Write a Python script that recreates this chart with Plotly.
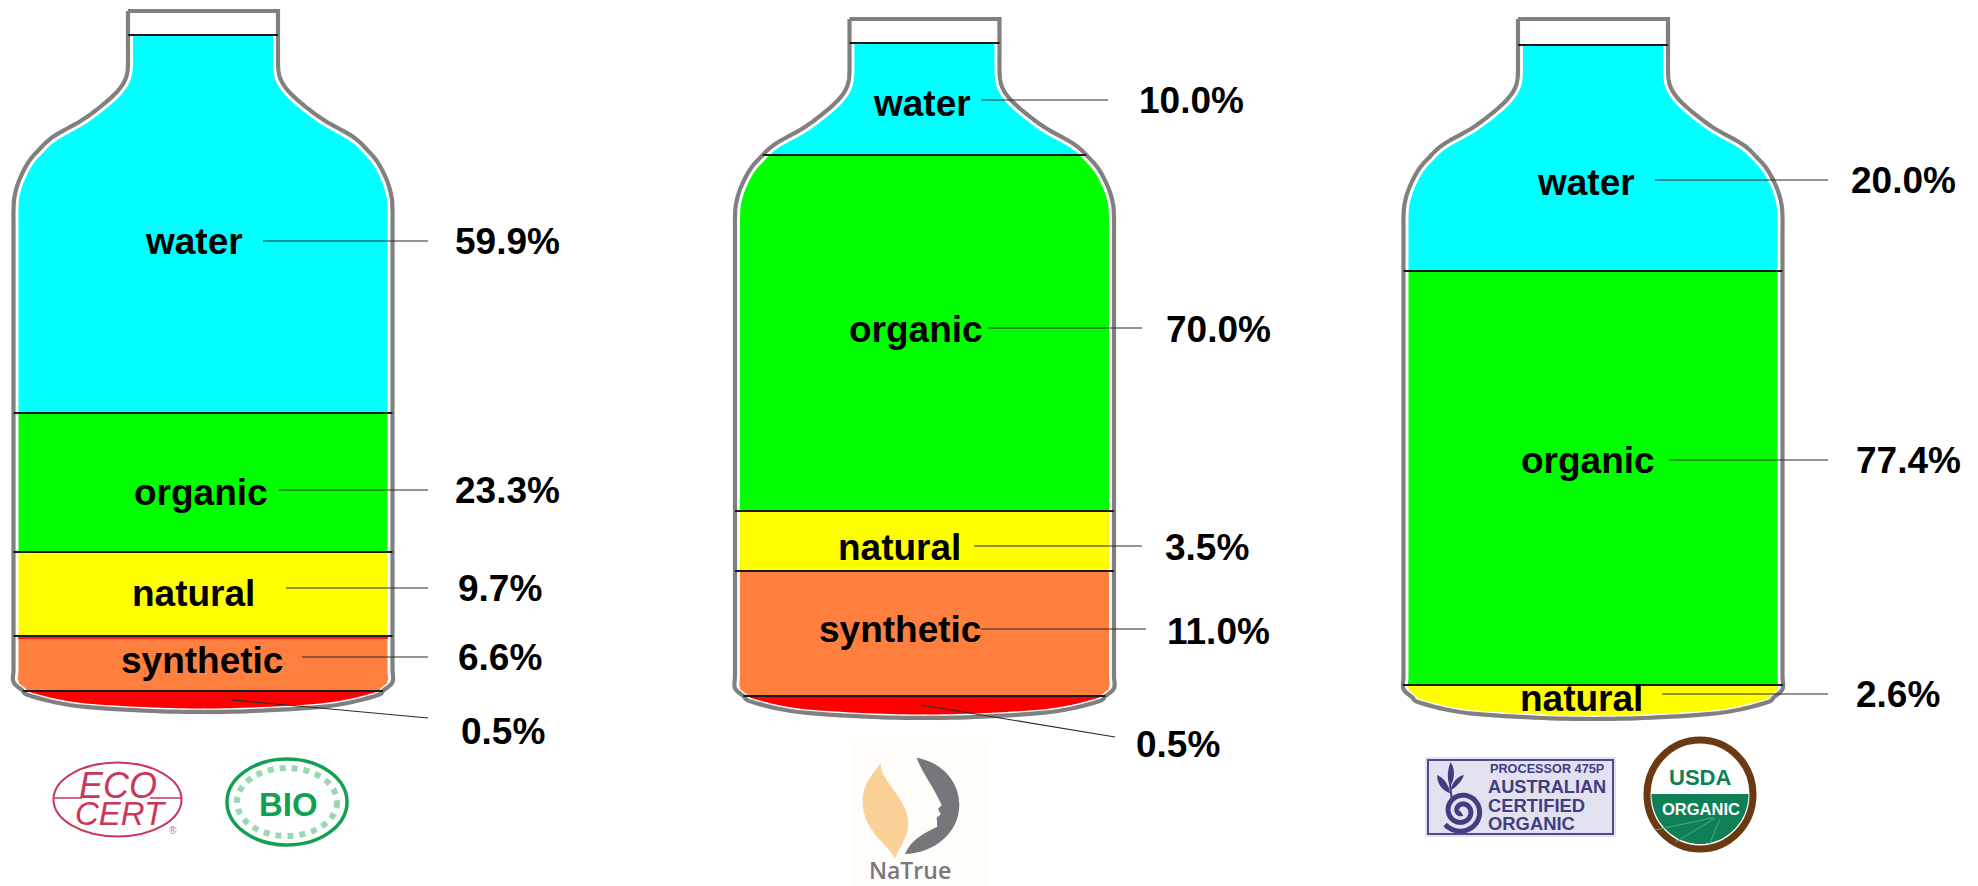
import numpy as np
import plotly.graph_objects as go

# ---------- data ----------
bottle1_names = ["water", "organic", "natural", "synthetic", ""]
bottle1_values = [59.9, 23.3, 9.7, 6.6, 0.5]
bottle1_levels = [35, 413, 552, 636, 691, 712]

bottle2_names = ["water", "organic", "natural", "synthetic", ""]
bottle2_values = [10.0, 70.0, 3.5, 11.0, 0.5]
bottle2_levels = [43, 155, 511, 571, 696, 718]

bottle3_names = ["water", "organic", "natural"]
bottle3_values = [20.0, 77.4, 2.6]
bottle3_levels = [45, 271, 685, 719]

colors = {"water": "#00ffff", "organic": "#00ff00", "natural": "#ffff00",
          "synthetic": "#ff7f3f", "": "#ff0000"}

FONT = "Liberation Sans"
WALL = "#808080"
LEADER = "#2a2a2a"

# half-width of the bottle against distance from its top
profile_dy = [0, 50, 60, 68, 76, 85, 97, 110, 126, 140, 152, 170, 186, 200, 672, 680, 686, 696, 701, 702]
profile_hw = [75, 75, 75.5, 77.5, 82, 90, 104, 122, 150, 165, 175, 184, 188.5, 189.5, 189.5, 181, 172, 126, 50, 0]


def dense_profile():
    # straight stretches get extra knots so the spline stays tight at their ends
    knots = [(profile_hw[0], profile_dy[0])]
    for i in range(1, len(profile_dy)):
        h0, d0, h1, d1 = profile_hw[i - 1], profile_dy[i - 1], profile_hw[i], profile_dy[i]
        n = int((d1 - d0) // 12) if h0 == h1 else 1
        for j in range(1, max(n, 1) + 1):
            f = j / max(n, 1)
            knots.append((h0 + (h1 - h0) * f, d0 + (d1 - d0) * f))
    p = np.array(knots, dtype=float)
    p = np.vstack([p[0], p, p[-1]])
    out = []
    for i in range(1, len(p) - 2):
        for t in np.linspace(0, 1, 8, endpoint=False):
            a, b, c, d = p[i - 1], p[i], p[i + 1], p[i + 2]
            out.append(0.5 * (2 * b + (c - a) * t + (2 * a - 5 * b + 4 * c - d) * t ** 2
                              + (3 * b - a - 3 * c + d) * t ** 3))
    out.append(p[-2])
    return np.array(out)


OUTER = dense_profile()
OUTER[:, 1] = np.maximum.accumulate(OUTER[:, 1])
tang = np.gradient(OUTER, axis=0)
tang /= np.maximum(np.linalg.norm(tang, axis=1, keepdims=True), 1e-9)
gap = np.where(OUTER[:, 1] > 675, 3.5, 5.0)[:, None]
INNER = OUTER + gap * np.column_stack([-tang[:, 1], tang[:, 0]])
INNER[:, 0] = np.maximum(INNER[:, 0], 0)
keep = np.concatenate([[True], np.diff(INNER[:, 1]) > 1e-6])
INNER = INNER[keep]
INNER_END = INNER[:, 1].max()

fig = go.Figure()
shapes = []
notes = []


def add_text(text, x, y, size=37, color="black", weight=700, family=FONT, anchor="center",
             italic=False):
    notes.append(dict(x=x, y=y, text=text, showarrow=False, xanchor=anchor, yanchor="middle",
                      font=dict(family=family, size=size, color=color, weight=weight,
                                style="italic" if italic else "normal")))


def line(x0, y0, x1, y1, color=LEADER, width=1.2):
    shapes.append(dict(type="line", x0=x0, y0=y0, x1=x1, y1=y1, layer="above",
                       line=dict(color=color, width=width)))


def poly(xs, ys, fill, width=0, color=None, dash=None):
    fig.add_trace(go.Scatter(x=xs, y=ys, mode="lines", fill="toself" if fill else None,
                             fillcolor=fill, hoverinfo="skip", showlegend=False,
                             line=dict(width=width, color=color or "rgba(0,0,0,0)", dash=dash,
                                       simplify=False)))


def draw_bottle(cx, top, height, names, values, levels, label_pos, leaders, value_pos):
    k = height / 702.0
    # fills
    for name, y0, y1 in zip(names, levels[:-1], levels[1:]):
        d0, d1 = (y0 - top) / k, (y1 - top) / k
        d1 = min(d1, INNER_END)
        inside = INNER[(INNER[:, 1] > d0) & (INNER[:, 1] < d1)]
        ds = np.concatenate([[d0], inside[:, 1], [d1]])
        hw = np.interp(ds, INNER[:, 1], INNER[:, 0])
        ys = top + ds * k
        poly(np.concatenate([cx - hw, (cx + hw)[::-1]]),
             np.concatenate([ys, ys[::-1]]), colors[name])
    # outline
    xs = np.concatenate([cx - OUTER[:, 0], (cx + OUTER[:, 0])[::-1], [cx - OUTER[0, 0]]])
    ys = top + k * np.concatenate([OUTER[:, 1], OUTER[:, 1][::-1], [OUTER[0, 1]]])
    poly(xs, ys, None, width=4.2, color=WALL)
    # separators
    for y in levels[:-1]:
        hw = np.interp((y - top) / k, OUTER[:, 1], OUTER[:, 0])
        line(cx - hw, y, cx + hw, y, color="#1a1a1a", width=2)
    # labels, values, leaders
    for name, v, lp, ld, vp in zip(names, values, label_pos, leaders, value_pos):
        if name:
            add_text(name, lp[0], lp[1])
        line(*ld)
        add_text(f"{v:.1f}%", vp[0], vp[1])


draw_bottle(203, 11, 701, bottle1_names, bottle1_values, bottle1_levels,
            [(194, 241), (201, 492), (193, 593), (202, 660), None],
            [(263, 241, 428, 241), (279, 490, 428, 490), (286, 588, 428, 588),
             (302, 657, 428, 657), (232, 700, 428, 718)],
            [(507.5, 241), (507, 490), (499.5, 588), (499.5, 657), (503, 731)])
line(18, 638, 388, 638, color="#ff0000", width=1.5)

draw_bottle(924.5, 19, 699, bottle2_names, bottle2_values, bottle2_levels,
            [(921.5, 103), (916, 329), (899.5, 547), (900, 629), None],
            [(981, 100, 1108, 100), (988, 328, 1142, 328), (974, 546, 1142, 546),
             (981, 629, 1146, 629), (921, 705, 1115, 737)],
            [(1191, 100), (1218, 329), (1207, 547), (1218, 631), (1178, 744)])

draw_bottle(1593, 19, 700, bottle3_names, bottle3_values, bottle3_levels,
            [(1586, 182), (1588, 460), (1581.5, 698)],
            [(1655, 180, 1828, 180), (1669, 460, 1828, 460), (1662, 694, 1828, 694)],
            [(1903, 180), (1908, 460), (1898, 694)])


# ---------- certification logos ----------
def ellipse(cx, cy, rx, ry, fill="rgba(0,0,0,0)", color="rgba(0,0,0,0)", width=0, dash=None,
            layer="above"):
    s = dict(type="circle", x0=cx - rx, x1=cx + rx, y0=cy - ry, y1=cy + ry, layer=layer,
             fillcolor=fill, line=dict(color=color, width=width))
    if dash:
        s["line"]["dash"] = dash
    shapes.append(s)


def rect(x0, y0, x1, y1, fill, color="rgba(0,0,0,0)", width=0):
    shapes.append(dict(type="rect", x0=x0, y0=y0, x1=x1, y1=y1, layer="below",
                       fillcolor=fill, line=dict(color=color, width=width)))


def zpath(segments, ox, oy, fill):
    parts = []
    for cmd, nums in segments:
        pts = [f"{ox + nums[i] / 3:.1f},{oy + nums[i + 1] / 3:.1f}" for i in range(0, len(nums), 2)]
        if cmd == "C":
            parts += ["C" + " ".join(pts[i:i + 3]) for i in range(0, len(pts), 3)]
        else:
            parts += [cmd + p for p in pts]
    shapes.append(dict(type="path", path=" ".join(parts) + " Z", fillcolor=fill, layer="above",
                       line=dict(width=0)))


# Ecocert
RED = "#c8385a"
ellipse(117.5, 799.5, 64, 37, color=RED, width=2)
line(54, 798, 82, 798, color=RED, width=1.5)
line(150, 798, 181, 798, color=RED, width=1.5)
add_text("ECO", 118, 785, size=36, color=RED, weight=400, italic=True)
add_text("CERT", 121, 813, size=33, color=RED, weight=400, italic=True)
add_text("®", 173, 830, size=10, color="#d0708a", weight=400)

# Bio
GREEN = "#12a052"
ellipse(287, 802, 60, 43, color=GREEN, width=3.5)
ellipse(287, 802, 50, 34, color="#9ad8b2", width=6, dash="dot")
add_text("BIO", 288, 804, size=33, color=GREEN, weight=700)

# NaTrue
rect(851, 737, 987, 886, "#fffdfa")
zpath([("M", [122, 85]),
       ("C", [120, 140, 205, 190, 205, 265, 205, 310, 175, 340, 165, 372,
              150, 330, 65, 290, 68, 195, 70, 140, 105, 110, 122, 85])], 840, 735, "#f9d196")
zpath([("M", [230, 68]),
       ("C", [300, 80, 358, 135, 358, 210, 358, 295, 280, 355, 195, 357,
              215, 310, 260, 290, 292, 275]),
       ("L", [290, 248, 302, 238, 294, 222, 305, 210, 287, 175]),
       ("C", [270, 140, 245, 110, 230, 68])], 840, 735, "#76767b")
add_text("NaTrue", 910, 870, size=23, color="#77777c", weight=600, family="Open Sans")

# Australian Certified Organic
INK = "#423d80"
rect(1425, 757, 1616, 837, "#e1e1f0")
shapes.append(dict(type="rect", x0=1428, y0=760, x1=1613, y1=834, layer="above",
                   line=dict(color="#4d4a8e", width=2)))
add_text("PROCESSOR 475P", 1488, 768.5, size=12.7, color=INK, anchor="left")
add_text("AUSTRALIAN", 1486, 787, size=18.2, color=INK, anchor="left")
add_text("CERTIFIED", 1486, 805, size=18.4, color=INK, anchor="left")
add_text("ORGANIC", 1486, 823, size=18.4, color=INK, anchor="left")
t = np.linspace(0.3, 4.4 * np.pi, 160)
r = 6 + 4.2 * t
poly(1420 + (125 + r * np.cos(t + 1.2)) / 3, 735 + (228 + r * np.sin(t + 1.2)) / 3,
     None, width=5, color=INK)
zpath([("M", [92, 82]), ("C", [110, 110, 100, 140, 90, 155, 80, 130, 82, 105, 92, 82])], 1420, 735, INK)
zpath([("M", [52, 120]), ("C", [75, 130, 88, 155, 90, 175, 65, 165, 50, 145, 52, 120])], 1420, 735, INK)
zpath([("M", [132, 120]), ("C", [125, 140, 105, 160, 92, 165, 95, 145, 110, 125, 132, 120])], 1420, 735, INK)
line(1420 + 90 / 3, 735 + 150 / 3, 1420 + 95 / 3, 735 + 190 / 3, color=INK, width=2)

# USDA Organic
ellipse(1700, 794.5, 53, 54.5, fill="white", color="#6b3a12", width=7, layer="below")
a = np.linspace(0, np.pi, 70)
gx = 1700 + 48.5 * np.cos(a)
gy = 794 + 50 * np.sin(a)
poly(gx, gy, "#0f8055")
for zx0, zy0, zx1, zy1 in [(705, 285, 880, 248), (765, 322, 885, 250), (868, 328, 900, 252)]:
    line(1420 + zx0 / 3, 735 + zy0 / 3, 1420 + zx1 / 3, 735 + zy1 / 3, color="#4fa888", width=1)
add_text("USDA", 1700, 777, size=22, color="#0f8055")
add_text("ORGANIC", 1701, 809, size=16.5, color="white")

fig.update_layout(
    width=1978, height=886, margin=dict(l=0, r=0, t=0, b=0),
    paper_bgcolor="white", plot_bgcolor="white", showlegend=False,
    xaxis=dict(range=[0, 1978], visible=False, fixedrange=True),
    yaxis=dict(range=[886, 0], visible=False, fixedrange=True),
    shapes=shapes, annotations=notes,
)
fig.write_html("out.html", config={"displayModeBar": False},
               post_script="document.body.style.margin='0';document.body.style.overflow='hidden';")
